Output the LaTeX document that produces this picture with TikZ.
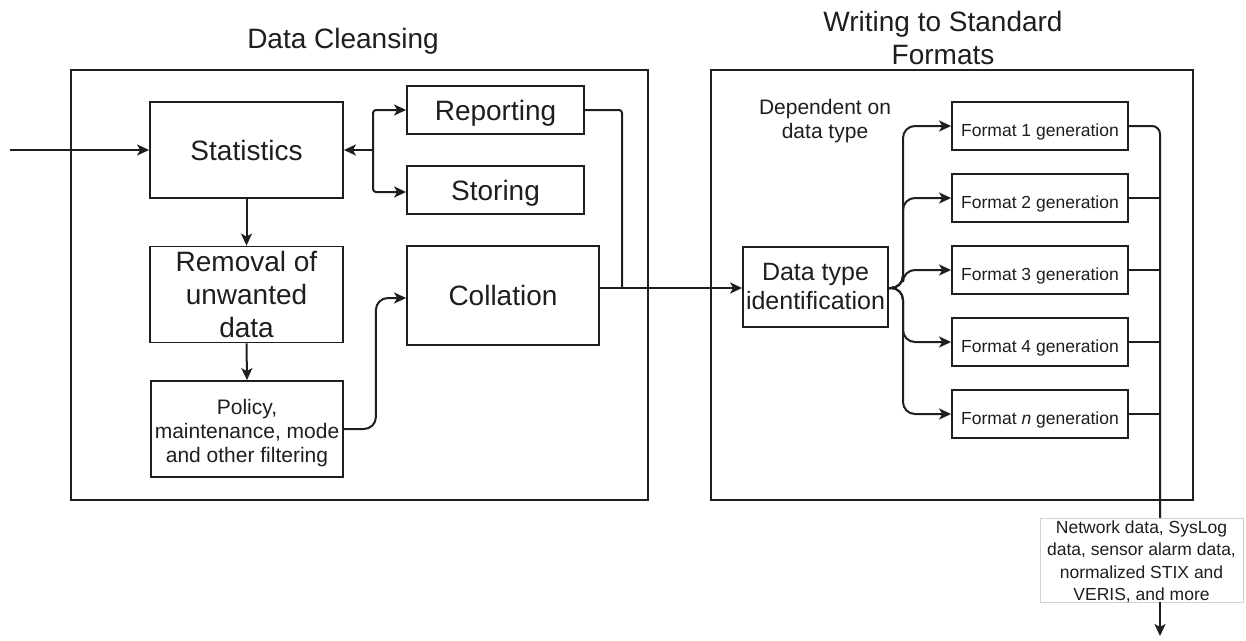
\documentclass[tikz,border=0pt]{standalone}
\usepackage{fontspec}
\setmainfont{Liberation Sans}
\usetikzlibrary{arrows.meta}
\definecolor{ink}{HTML}{1E1E1E}
\tikzset{
  box/.style={draw=ink, line width=1.8pt, inner sep=0pt, align=center, anchor=center, text=ink},
  frame/.style={draw=ink, line width=1.8pt},
  big/.style={font=\fontsize{28}{33}\selectfont, text=ink},
  mid/.style={font=\fontsize{25}{29}\selectfont, text=ink},
  small/.style={font=\fontsize{21}{24}\selectfont, text=ink},
  tiny/.style={font=\fontsize{17.5}{22.5}\selectfont, text=ink},
  capsmid/.style={text height=20pt, text depth=0pt},
  lowtext/.style={text height=21pt, text depth=0pt},
  wire/.style={draw=ink, line width=2pt},
  arr/.style={draw=ink, line width=2pt, -{Stealth[length=12pt,width=11pt,inset=3pt]}},
}
\newcommand{\lowered}[2]{\raisebox{-#1}[\height][\depth]{#2}}
\begin{document}
\begin{tikzpicture}[x=1pt,y=-1pt]
\useasboundingbox (0,0) rectangle (1246,640);

% stage frames and titles
\draw[frame] (71,70) rectangle (648,500);
\draw[frame] (711,70) rectangle (1193,500);
\node[big] (t1) at (343,41) {Data Cleansing};
\node[big, align=center] (t2) at (943,38) {Writing to Standard\\Formats};

% data cleansing stage
\node[box, big, capsmid, minimum width=193pt, minimum height=96pt] (stat) at (246.5,150) {Statistics};
\node[box, big, capsmid, minimum width=177pt, minimum height=48pt] (rep) at (495.5,110) {Reporting};
\node[box, big, capsmid, minimum width=177pt, minimum height=48pt] (sto) at (495.5,190) {Storing};
\node[box, big, minimum width=193pt, minimum height=96pt] (rem) at (246.5,294.5) {Removal of\\unwanted\\data};
\node[box, small, minimum width=192pt, minimum height=96pt] (pol) at (247,429)
  {\lowered{4pt}{\parbox{190pt}{\centering Policy,\\maintenance, mode\\and other filtering}}};
\node[box, big, capsmid, minimum width=192pt, minimum height=99pt] (col) at (503,295.5) {Collation};

% writing stage
\node[box, mid, minimum width=145pt, minimum height=80pt] (dt) at (815.5,287) {Data type\\identification};
\node[small, align=center] (dep) at (825,121.5) {Dependent on\\data type};
\node[box, tiny, lowtext, minimum width=176pt, minimum height=48pt] (f1) at (1040,126) {Format 1 generation};
\node[box, tiny, lowtext, minimum width=176pt, minimum height=48pt] (f2) at (1040,198) {Format 2 generation};
\node[box, tiny, lowtext, minimum width=176pt, minimum height=48pt] (f3) at (1040,270) {Format 3 generation};
\node[box, tiny, lowtext, minimum width=176pt, minimum height=48pt] (f4) at (1040,342) {Format 4 generation};
\node[box, tiny, lowtext, minimum width=176pt, minimum height=48pt] (fn) at (1040,414) {Format \textit{n} generation};

% free ends and junctions
\coordinate (in) at (10,150);
\coordinate (sj) at (373,150);
\coordinate (rj) at (622,288);
\coordinate (bj) at (903,288);
\coordinate (bus) at (1160,518);
\coordinate (out) at (1160,636);

% connectors, cleansing stage
\draw[arr] (in) -- (stat.west);
\draw[arr] (sj) -- (stat.east);
\draw[arr, rounded corners=3pt] (sj) |- (rep.west);
\draw[arr, rounded corners=3pt] (sj) |- ([yshift=-2pt]sto.west);
\draw[arr] (stat.south) -- (rem.north);
\draw[arr] (rem.south) -- (pol.north);
\draw[arr, rounded corners=12pt] (pol.east) -- ++(32,0) |- ([yshift=-2.5pt]col.west);
\draw[wire, rounded corners=3pt] (rep.east) -| (rj);

% connectors, writing stage
\draw[arr] (col.east |- rj) -- (dt.west |- rj);
\draw[arr, rounded corners=12pt] (dt.east |- bj) -- (bj) |- (f1.west);
\draw[arr, rounded corners=12pt] (dt.east |- bj) -- (bj) |- (f2.west);
\draw[arr, rounded corners=12pt] (dt.east |- bj) -- (bj) |- (f3.west);
\draw[arr, rounded corners=12pt] (dt.east |- bj) -- (bj) |- (f4.west);
\draw[arr, rounded corners=12pt] (dt.east |- bj) -- (bj) |- (fn.west);
\draw[wire, rounded corners=8pt] (f1.east) -| (bus);
\draw[wire] (f2.east) -- (f2.east -| bus);
\draw[wire] (f3.east) -- (f3.east -| bus);
\draw[wire] (f4.east) -- (f4.east -| bus);
\draw[wire] (fn.east) -- (fn.east -| bus);

% output label and arrow
\node[draw=black!18, line width=0.8pt, fill=white, tiny, align=center, inner sep=0pt,
      minimum width=203pt, minimum height=84pt] (lab) at (1141.5,560)
  {\lowered{2pt}{\parbox{200pt}{\centering Network data, SysLog\\data, sensor alarm data,\\normalized STIX and\\VERIS, and more}}};
\draw[arr] (lab.south -| bus) -- (out);
\end{tikzpicture}
\end{document}
